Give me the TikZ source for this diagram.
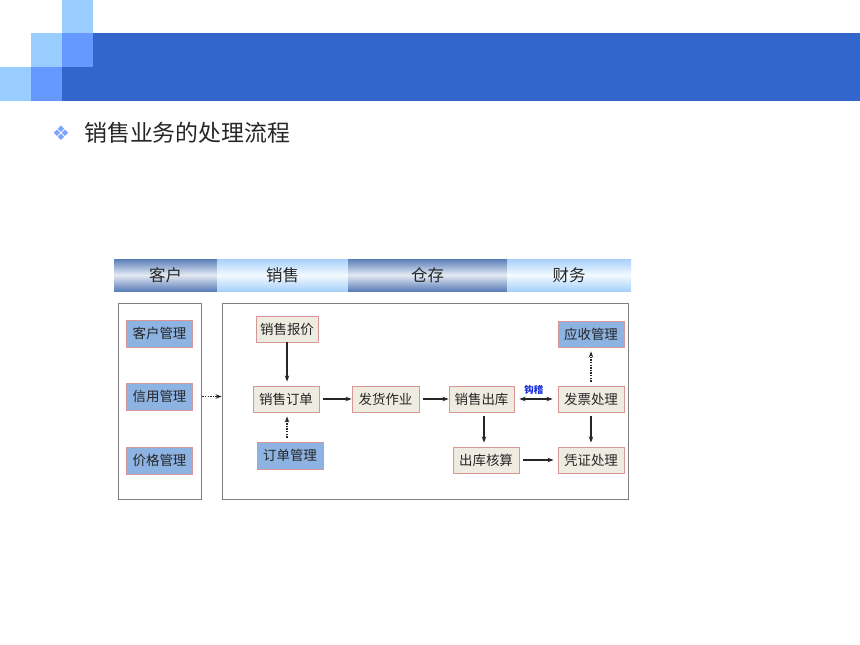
\documentclass[tikz,border=0pt]{standalone}
\usepackage{fontspec}
\newfontfamily\cjk{Noto Sans CJK SC}
\newfontfamily\dejavu{DejaVu Sans}
\usetikzlibrary{arrows.meta,positioning}
\definecolor{hdDark}{HTML}{3366CC}
\definecolor{hdMid}{HTML}{6699FF}
\definecolor{hdLight}{HTML}{99CCFF}
\definecolor{boxBeige}{HTML}{EEECE1}
\definecolor{boxBlue}{HTML}{8DB3E2}
\definecolor{boxLine}{HTML}{D99694}
\definecolor{panelLine}{HTML}{808080}
\definecolor{tabDarkEdge}{HTML}{5A7DB8}
\definecolor{tabDarkMid}{HTML}{E4EAF3}
\definecolor{tabLightEdge}{HTML}{A6D0FA}
\definecolor{tabLightMid}{HTML}{F4FAFF}
\definecolor{gjBlue}{HTML}{1A2EE0}
\tikzset{
  box/.style={draw=boxLine, line width=0.9bp, fill=boxBeige, minimum height=26bp, inner sep=0pt, font=\cjk\fontsize{13.5}{13.5}\selectfont, text=black!85},
  bluebox/.style={box, fill=boxBlue},
  panel/.style={draw=panelLine, line width=0.8bp},
  arr/.style={-{Stealth[length=6bp,width=4.5bp]}, line width=1.3bp, black!85},
  darr/.style={arr, dash pattern=on 1.3bp off 1.3bp, line width=1.2bp},
  tabdark/.style={top color=tabDarkEdge, bottom color=tabDarkEdge, middle color=tabDarkMid, draw=none},
  tablight/.style={top color=tabLightEdge, bottom color=tabLightEdge, middle color=tabLightMid, draw=none},
  tabtext/.style={font=\cjk\fontsize{16.5}{16.5}\selectfont, text=black!85},
}
\begin{document}
\begin{tikzpicture}[x=1bp,y=-1bp]
\useasboundingbox (0,0) rectangle (860,645);
\fill[white] (0,0) rectangle (860,645);
% header
\fill[hdDark] (62,67) rectangle (860,101);
\fill[hdDark] (93,33) rectangle (860,67);
\fill[hdLight] (62,0) rectangle (93,33);
\fill[hdLight] (31,33) rectangle (62,67);
\fill[hdMid] (62,33) rectangle (93,67);
\fill[hdLight] (0,67) rectangle (31,101);
\fill[hdMid] (31,67) rectangle (62,101);
% title
\node[text=hdLight!80!blue, font=\dejavu\fontsize{20}{20}\selectfont, inner sep=0pt] (bul) at (61,133) {❖};
\node[anchor=west, font=\cjk\fontsize{23}{23}\selectfont, text=black!85, inner sep=0pt] (title) at (84,133) {销售业务的处理流程};
% tab bar
\shade[tabdark] (114,259) rectangle (217,291);
\shade[tablight] (217,259) rectangle (348,291);
\shade[tabdark] (348,259) rectangle (507,291);
\shade[tablight] (507,259) rectangle (631,291);
\node[tabtext] (t1) at (165.5,275) {客户};
\node[tabtext] (t2) at (282.5,275) {销售};
\node[tabtext] (t3) at (427.5,275) {仓存};
\node[tabtext] (t4) at (569,275) {财务};
% panels
\node[panel, minimum width=83bp, minimum height=196bp, inner sep=0pt] (lp) at (159.5,401) {};
\node[panel, minimum width=406bp, minimum height=196bp, inner sep=0pt] (rp) at (425,401) {};
% left boxes
\node[bluebox, minimum width=66bp, minimum height=27bp] (khgl) at (159.5,333.5) {客户管理};
\node[bluebox, minimum width=66bp, minimum height=27bp] (xygl) at (159.5,396.5) {信用管理};
\node[bluebox, minimum width=66bp, minimum height=27bp] (jggl) at (159.5,460.5) {价格管理};
% right boxes
\node[box, minimum width=62bp] (xsbj) at (287,329) {销售报价};
\node[box, minimum width=66bp] (xsdd) at (286,399) {销售订单};
\node[bluebox, minimum width=66bp, minimum height=27bp] (ddgl) at (290,455.5) {订单管理};
\node[box, minimum width=67bp] (fhzy) at (385.5,399) {发货作业};
\node[box, minimum width=65bp] (xsck) at (481.5,399) {销售出库};
\node[box, minimum width=66bp] (fpcl) at (591,399) {发票处理};
\node[bluebox, minimum width=66bp] (ysgl) at (591,334) {应收管理};
\node[box, minimum width=66bp] (ckhs) at (486,460) {出库核算};
\node[box, minimum width=66bp] (pzcl) at (591,460) {凭证处理};
% connectors
\draw[darr, shorten <=1bp] (lp.east |- xygl) -- (rp.west |- xygl);
\draw[arr, shorten <=0bp, shorten >=4bp] (xsbj.south) -- (xsbj.south |- xsdd.north);
\draw[darr, shorten <=4bp, shorten >=4bp] (xsbj.south |- ddgl.north) -- (xsbj.south |- xsdd.south);
\draw[arr, shorten <=4bp] (xsdd) -- (fhzy);
\draw[arr, shorten <=4bp] (fhzy) -- (xsck);
\draw[arr, {Stealth[length=6bp,width=4.5bp]}-{Stealth[length=6bp,width=4.5bp]}, shorten <=5bp, shorten >=5bp] (xsck) -- node[above=1bp, font=\cjk\bfseries\fontsize{9.5}{9.5}\selectfont, text=gjBlue, pos=0.45] (gj) {钩稽} (fpcl);
\draw[darr, shorten <=4bp, shorten >=4bp] (fpcl.north) -- (ysgl.south);
\draw[arr, shorten <=4bp, shorten >=4bp] (fpcl.south) -- (pzcl.north);
\draw[arr, shorten <=4bp, shorten >=4bp] (xsck.south -| 484,0) -- (ckhs.north -| 484,0);
\draw[arr, shorten <=4bp, shorten >=4bp] (ckhs) -- (pzcl);
\end{tikzpicture}
\end{document}
